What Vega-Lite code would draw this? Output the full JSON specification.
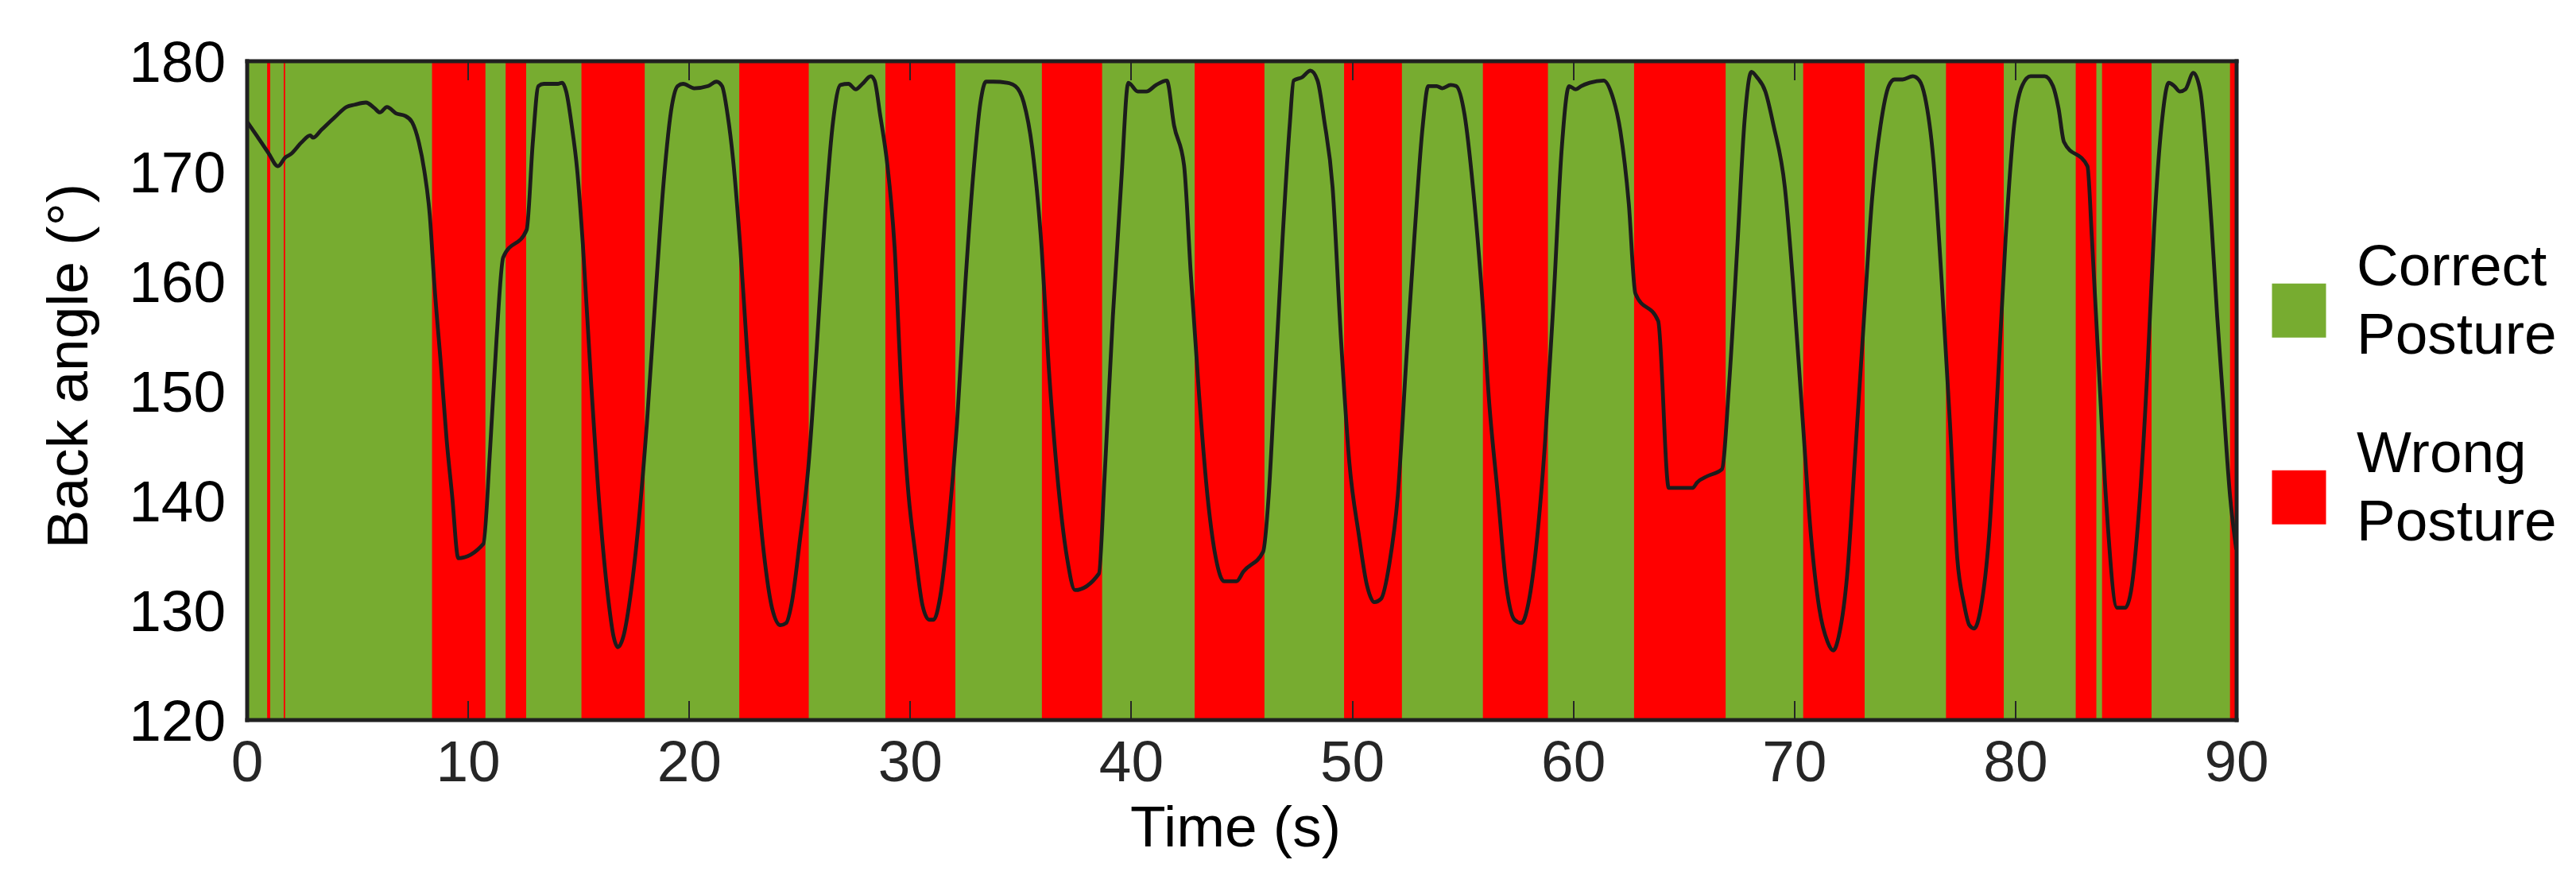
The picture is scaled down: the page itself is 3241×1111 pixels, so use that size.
{
  "$schema": "https://vega.github.io/schema/vega-lite/v6.json",
  "width": 2503,
  "height": 829,
  "autosize": {"type": "none"},
  "padding": {"left": 310.5, "top": 76.5, "right": 427.5, "bottom": 205.5},
  "background": "white",
  "config": {
    "view": {"stroke": null, "fill": "#77AC30"},
    "font": "Liberation Sans",
    "style": {"guide-label": {"lineHeight": 86, "dy": -12.6}},
    "axis": {"grid": false}
  },
  "datasets": {
    "bands": [
      {"start": 0, "end": 0.92, "posture": "Correct Posture"},
      {"start": 0.92, "end": 1.06, "posture": "Wrong Posture"},
      {"start": 1.06, "end": 1.67, "posture": "Correct Posture"},
      {"start": 1.67, "end": 1.74, "posture": "Wrong Posture"},
      {"start": 1.74, "end": 8.38, "posture": "Correct Posture"},
      {"start": 8.38, "end": 10.8, "posture": "Wrong Posture"},
      {"start": 10.8, "end": 11.71, "posture": "Correct Posture"},
      {"start": 11.71, "end": 12.64, "posture": "Wrong Posture"},
      {"start": 12.64, "end": 15.14, "posture": "Correct Posture"},
      {"start": 15.14, "end": 18.01, "posture": "Wrong Posture"},
      {"start": 18.01, "end": 22.28, "posture": "Correct Posture"},
      {"start": 22.28, "end": 25.43, "posture": "Wrong Posture"},
      {"start": 25.43, "end": 28.89, "posture": "Correct Posture"},
      {"start": 28.89, "end": 32.06, "posture": "Wrong Posture"},
      {"start": 32.06, "end": 35.97, "posture": "Correct Posture"},
      {"start": 35.97, "end": 38.7, "posture": "Wrong Posture"},
      {"start": 38.7, "end": 42.88, "posture": "Correct Posture"},
      {"start": 42.88, "end": 46.04, "posture": "Wrong Posture"},
      {"start": 46.04, "end": 49.64, "posture": "Correct Posture"},
      {"start": 49.64, "end": 52.26, "posture": "Wrong Posture"},
      {"start": 52.26, "end": 55.92, "posture": "Correct Posture"},
      {"start": 55.92, "end": 58.87, "posture": "Wrong Posture"},
      {"start": 58.87, "end": 62.76, "posture": "Correct Posture"},
      {"start": 62.76, "end": 66.91, "posture": "Wrong Posture"},
      {"start": 66.91, "end": 70.41, "posture": "Correct Posture"},
      {"start": 70.41, "end": 73.19, "posture": "Wrong Posture"},
      {"start": 73.19, "end": 76.87, "posture": "Correct Posture"},
      {"start": 76.87, "end": 79.49, "posture": "Wrong Posture"},
      {"start": 79.49, "end": 82.74, "posture": "Correct Posture"},
      {"start": 82.74, "end": 83.68, "posture": "Wrong Posture"},
      {"start": 83.68, "end": 83.93, "posture": "Correct Posture"},
      {"start": 83.93, "end": 86.17, "posture": "Wrong Posture"},
      {"start": 86.17, "end": 89.72, "posture": "Correct Posture"},
      {"start": 89.72, "end": 90, "posture": "Wrong Posture"}
    ],
    "angle": [
      {"t": 0, "angle": 174.5}, {"t": 0.48, "angle": 173.1}, {"t": 0.98, "angle": 171.6}, {"t": 1.41, "angle": 170.4},
      {"t": 1.74, "angle": 171.2}, {"t": 1.99, "angle": 171.5}, {"t": 2.49, "angle": 172.6}, {"t": 2.87, "angle": 173.2},
      {"t": 3.0, "angle": 173.0}, {"t": 3.37, "angle": 173.7}, {"t": 4.0, "angle": 174.9}, {"t": 4.51, "angle": 175.8},
      {"t": 4.88, "angle": 176.0}, {"t": 5.39, "angle": 176.2}, {"t": 5.77, "angle": 175.7}, {"t": 6.02, "angle": 175.3},
      {"t": 6.34, "angle": 175.8}, {"t": 6.77, "angle": 175.2}, {"t": 7.15, "angle": 175.0}, {"t": 7.48, "angle": 174.4},
      {"t": 7.78, "angle": 172.6}, {"t": 8.03, "angle": 170.0}, {"t": 8.28, "angle": 165.9}, {"t": 8.48, "angle": 159.8},
      {"t": 8.79, "angle": 152.1}, {"t": 9.04, "angle": 145.5}, {"t": 9.29, "angle": 140.4}, {"t": 9.57, "angle": 134.7},
      {"t": 10.7, "angle": 136.0}, {"t": 11.0, "angle": 144.4}, {"t": 11.3, "angle": 154.7}, {"t": 11.6, "angle": 162.1},
      {"t": 12.66, "angle": 164.6}, {"t": 12.94, "angle": 172.6}, {"t": 13.19, "angle": 177.7}, {"t": 13.44, "angle": 177.9},
      {"t": 14.07, "angle": 177.9}, {"t": 14.27, "angle": 178.0}, {"t": 14.45, "angle": 177.2}, {"t": 14.7, "angle": 174.1},
      {"t": 14.95, "angle": 170.0}, {"t": 15.2, "angle": 163.4}, {"t": 15.58, "angle": 150.6}, {"t": 15.96, "angle": 139.3},
      {"t": 16.34, "angle": 131.2}, {"t": 16.59, "angle": 127.6}, {"t": 16.79, "angle": 126.6}, {"t": 17.04, "angle": 127.6},
      {"t": 17.35, "angle": 131.2}, {"t": 17.72, "angle": 137.8}, {"t": 18.1, "angle": 147.0}, {"t": 18.48, "angle": 158.3},
      {"t": 18.86, "angle": 169.0}, {"t": 19.23, "angle": 175.9}, {"t": 19.49, "angle": 177.7}, {"t": 19.74, "angle": 177.9},
      {"t": 20.24, "angle": 177.5}, {"t": 20.87, "angle": 177.7}, {"t": 21.25, "angle": 178.1}, {"t": 21.5, "angle": 177.7},
      {"t": 21.75, "angle": 175.1}, {"t": 22.0, "angle": 171.0}, {"t": 22.33, "angle": 162.9}, {"t": 22.63, "angle": 153.7},
      {"t": 23.01, "angle": 143.4}, {"t": 23.39, "angle": 135.2}, {"t": 23.77, "angle": 130.1}, {"t": 24.14, "angle": 128.6},
      {"t": 24.4, "angle": 128.8}, {"t": 24.65, "angle": 130.6}, {"t": 25.02, "angle": 136.3}, {"t": 25.4, "angle": 142.9},
      {"t": 25.78, "angle": 153.7}, {"t": 26.16, "angle": 165.9}, {"t": 26.53, "angle": 174.6}, {"t": 26.86, "angle": 177.8},
      {"t": 27.22, "angle": 177.9}, {"t": 27.55, "angle": 177.4}, {"t": 27.85, "angle": 177.9}, {"t": 28.23, "angle": 178.6},
      {"t": 28.4, "angle": 178.2}, {"t": 28.65, "angle": 175.1}, {"t": 28.98, "angle": 170.5}, {"t": 29.31, "angle": 162.9},
      {"t": 29.61, "angle": 150.1}, {"t": 29.94, "angle": 140.4}, {"t": 30.24, "angle": 135.2}, {"t": 30.57, "angle": 130.4},
      {"t": 30.87, "angle": 129.1}, {"t": 31.07, "angle": 129.1}, {"t": 31.37, "angle": 131.2}, {"t": 31.75, "angle": 137.8},
      {"t": 32.13, "angle": 147.0}, {"t": 32.51, "angle": 159.8}, {"t": 32.88, "angle": 170.0}, {"t": 33.19, "angle": 176.2},
      {"t": 33.44, "angle": 178.1}, {"t": 33.77, "angle": 178.1}, {"t": 34.39, "angle": 178.0}, {"t": 34.77, "angle": 177.7},
      {"t": 35.15, "angle": 176.2}, {"t": 35.53, "angle": 172.1}, {"t": 35.96, "angle": 162.9}, {"t": 36.28, "angle": 152.1},
      {"t": 36.66, "angle": 142.4}, {"t": 37.11, "angle": 134.7}, {"t": 37.47, "angle": 131.8}, {"t": 38.55, "angle": 133.3},
      {"t": 38.8, "angle": 141.9}, {"t": 39.18, "angle": 156.7}, {"t": 39.56, "angle": 169.0}, {"t": 39.88, "angle": 178.0},
      {"t": 40.31, "angle": 177.2}, {"t": 40.69, "angle": 177.2}, {"t": 41.14, "angle": 177.8}, {"t": 41.62, "angle": 178.2},
      {"t": 41.95, "angle": 174.1}, {"t": 42.4, "angle": 170.5}, {"t": 42.7, "angle": 160.8}, {"t": 43.08, "angle": 149.6},
      {"t": 43.46, "angle": 140.4}, {"t": 43.84, "angle": 134.7}, {"t": 44.21, "angle": 132.6}, {"t": 44.77, "angle": 132.6},
      {"t": 45.09, "angle": 133.5}, {"t": 45.98, "angle": 135.3}, {"t": 46.23, "angle": 140.4}, {"t": 46.48, "angle": 149.6},
      {"t": 46.86, "angle": 163.9}, {"t": 47.18, "angle": 174.1}, {"t": 47.36, "angle": 178.2}, {"t": 47.74, "angle": 178.5},
      {"t": 48.12, "angle": 179.1}, {"t": 48.44, "angle": 178.2}, {"t": 48.74, "angle": 174.6}, {"t": 49.12, "angle": 168.5},
      {"t": 49.5, "angle": 154.7}, {"t": 49.88, "angle": 143.4}, {"t": 50.31, "angle": 136.8}, {"t": 50.68, "angle": 132.2},
      {"t": 51.01, "angle": 130.7}, {"t": 51.31, "angle": 131.0}, {"t": 51.69, "angle": 134.2}, {"t": 52.07, "angle": 140.4},
      {"t": 52.45, "angle": 152.6}, {"t": 52.82, "angle": 163.9}, {"t": 53.2, "angle": 174.1}, {"t": 53.45, "angle": 177.7},
      {"t": 53.83, "angle": 177.7}, {"t": 54.08, "angle": 177.5}, {"t": 54.46, "angle": 177.8}, {"t": 54.71, "angle": 177.7},
      {"t": 55.09, "angle": 175.1}, {"t": 55.47, "angle": 168.5}, {"t": 55.84, "angle": 159.8}, {"t": 56.22, "angle": 148.5},
      {"t": 56.6, "angle": 140.4}, {"t": 56.98, "angle": 132.2}, {"t": 57.35, "angle": 129.1}, {"t": 57.66, "angle": 128.8},
      {"t": 57.98, "angle": 130.6}, {"t": 58.36, "angle": 136.3}, {"t": 58.74, "angle": 145.5}, {"t": 59.12, "angle": 158.3},
      {"t": 59.49, "angle": 172.1}, {"t": 59.82, "angle": 177.7}, {"t": 60.12, "angle": 177.4}, {"t": 60.37, "angle": 177.7},
      {"t": 60.75, "angle": 178.0}, {"t": 61.38, "angle": 178.2}, {"t": 61.76, "angle": 176.9}, {"t": 62.14, "angle": 173.6},
      {"t": 62.52, "angle": 167.0}, {"t": 62.82, "angle": 158.8}, {"t": 63.85, "angle": 156.3}, {"t": 64.33, "angle": 141.1},
      {"t": 65.41, "angle": 141.1}, {"t": 65.61, "angle": 141.6}, {"t": 66.1, "angle": 142.2}, {"t": 66.73, "angle": 142.8},
      {"t": 67.06, "angle": 150.6}, {"t": 67.44, "angle": 163.4}, {"t": 67.76, "angle": 174.6}, {"t": 68.07, "angle": 179.0},
      {"t": 68.32, "angle": 178.5}, {"t": 68.7, "angle": 177.2}, {"t": 69.07, "angle": 174.1}, {"t": 69.58, "angle": 168.5},
      {"t": 69.95, "angle": 159.8}, {"t": 70.38, "angle": 147.5}, {"t": 70.76, "angle": 136.8}, {"t": 71.14, "angle": 130.1},
      {"t": 71.51, "angle": 127.1}, {"t": 71.77, "angle": 126.3}, {"t": 72.02, "angle": 127.6}, {"t": 72.4, "angle": 133.2},
      {"t": 72.77, "angle": 144.4}, {"t": 73.15, "angle": 156.2}, {"t": 73.53, "angle": 167.5}, {"t": 73.91, "angle": 174.1},
      {"t": 74.28, "angle": 177.7}, {"t": 74.54, "angle": 178.3}, {"t": 74.91, "angle": 178.3}, {"t": 75.37, "angle": 178.6},
      {"t": 75.67, "angle": 178.2}, {"t": 75.92, "angle": 176.7}, {"t": 76.3, "angle": 171.0}, {"t": 76.68, "angle": 159.8},
      {"t": 77.05, "angle": 147.0}, {"t": 77.38, "angle": 134.7}, {"t": 77.68, "angle": 130.6}, {"t": 77.93, "angle": 128.6},
      {"t": 78.14, "angle": 128.3}, {"t": 78.44, "angle": 130.1}, {"t": 78.82, "angle": 136.8}, {"t": 79.19, "angle": 149.6},
      {"t": 79.57, "angle": 163.9}, {"t": 79.95, "angle": 174.1}, {"t": 80.33, "angle": 177.8}, {"t": 80.7, "angle": 178.6},
      {"t": 81.33, "angle": 178.6}, {"t": 81.71, "angle": 177.7}, {"t": 81.96, "angle": 175.7}, {"t": 82.21, "angle": 172.6},
      {"t": 83.27, "angle": 170.4}, {"t": 83.47, "angle": 163.9}, {"t": 83.78, "angle": 152.1}, {"t": 84.1, "angle": 140.4},
      {"t": 84.61, "angle": 130.2}, {"t": 84.98, "angle": 130.2}, {"t": 85.24, "angle": 131.7}, {"t": 85.61, "angle": 139.3},
      {"t": 85.99, "angle": 152.1}, {"t": 86.29, "angle": 164.9}, {"t": 86.62, "angle": 174.1}, {"t": 86.95, "angle": 178.0},
      {"t": 87.2, "angle": 177.7}, {"t": 87.45, "angle": 177.2}, {"t": 87.7, "angle": 177.4}, {"t": 88.06, "angle": 178.9},
      {"t": 88.38, "angle": 177.2}, {"t": 88.63, "angle": 172.1}, {"t": 88.89, "angle": 164.9}, {"t": 89.14, "angle": 156.7},
      {"t": 89.39, "angle": 149.6}, {"t": 89.72, "angle": 140.4}, {"t": 90.0, "angle": 135.5}
    ]
  },
  "layer": [
    {
      "data": {"name": "bands"},
      "mark": {"type": "rect"},
      "encoding": {
        "x": {
          "field": "start", "type": "quantitative",
          "scale": {"domain": [0, 90], "nice": false, "zero": false},
          "axis": {
            "orient": "bottom", "title": "Time (s)", "zindex": 1,
            "values": [0, 10, 20, 30, 40, 50, 60, 70, 80, 90],
            "domain": true, "domainColor": "#202020", "domainWidth": 5, "domainCap": "square",
            "ticks": true, "tickSize": -24, "tickWidth": 2, "tickColor": "#262626",
            "labelFont": "Liberation Sans", "labelFontSize": 73, "labelColor": "#262626",
            "labelBaseline": "alphabetic", "labelPadding": 113.4, "labelFlush": false, "labelOverlap": false,
            "titleFont": "Liberation Sans", "titleFontSize": 73, "titleFontWeight": "normal", "titleColor": "#000000",
            "titleBaseline": "alphabetic", "titleAlign": "center", "titleX": 1243.5, "titleY": 158.8
          }
        },
        "x2": {"field": "end"},
        "color": {
          "field": "posture", "type": "nominal",
          "scale": {"domain": ["Correct Posture", "Wrong Posture"], "range": ["#77AC30", "#FF0000"]},
          "legend": {
            "title": null, "orient": "none", "legendX": 2545.5, "legendY": 237, "padding": 0,
            "symbolType": "M-1,0.2L1,0.2L1,2.2L-1,2.2Z", "symbolSize": 4624, "symbolStrokeWidth": 0, "symbolOpacity": 1,
            "labelFont": "Liberation Sans", "labelFontSize": 73, "labelColor": "#000000", "labelLimit": 1000,
            "labelOffset": 36, "labelBaseline": "middle", "rowPadding": 75,
            "labelExpr": "split(datum.label, ' ')"
          }
        }
      }
    },
    {
      "data": {"name": "angle"},
      "mark": {"type": "line", "color": "#1c1c1c", "strokeWidth": 4.8, "clip": true, "strokeJoin": "round", "interpolate": "monotone"},
      "encoding": {
        "x": {
          "field": "t", "type": "quantitative",
          "axis": {
            "orient": "top", "title": null, "labels": false, "zindex": 1,
            "values": [0, 10, 20, 30, 40, 50, 60, 70, 80, 90],
            "domain": true, "domainColor": "#202020", "domainWidth": 5, "domainCap": "square",
            "ticks": true, "tickSize": -24, "tickWidth": 2, "tickColor": "#262626"
          }
        },
        "y": {
          "field": "angle", "type": "quantitative",
          "scale": {"domain": [120, 180], "nice": false, "zero": false},
          "axis": {
            "orient": "left", "title": "Back angle (°)", "zindex": 1,
            "values": [120, 130, 140, 150, 160, 170, 180],
            "domain": true, "domainColor": "#202020", "domainWidth": 5, "domainCap": "square",
            "ticks": false, "labelPadding": 27, "labelOffset": 17,
            "labelFont": "Liberation Sans", "labelFontSize": 73, "labelColor": "#000000",
            "labelFlush": false, "labelOverlap": false,
            "titleFont": "Liberation Sans", "titleFontSize": 73, "titleFontWeight": "normal", "titleColor": "#000000",
            "titleAngle": 270, "titleBaseline": "alphabetic", "titleAlign": "center", "titleX": -201.5, "titleY": 383.5
          }
        }
      }
    },
    {
      "data": {"name": "angle"},
      "mark": {"type": "line", "opacity": 0},
      "encoding": {
        "x": {"field": "t", "type": "quantitative", "axis": null},
        "y": {
          "field": "angle", "type": "quantitative",
          "axis": {
            "orient": "right", "title": null, "labels": false, "ticks": false, "zindex": 1,
            "domain": true, "domainColor": "#202020", "domainWidth": 5, "domainCap": "square"
          }
        }
      }
    }
  ],
  "resolve": {"axis": {"x": "independent", "y": "independent"}}
}
